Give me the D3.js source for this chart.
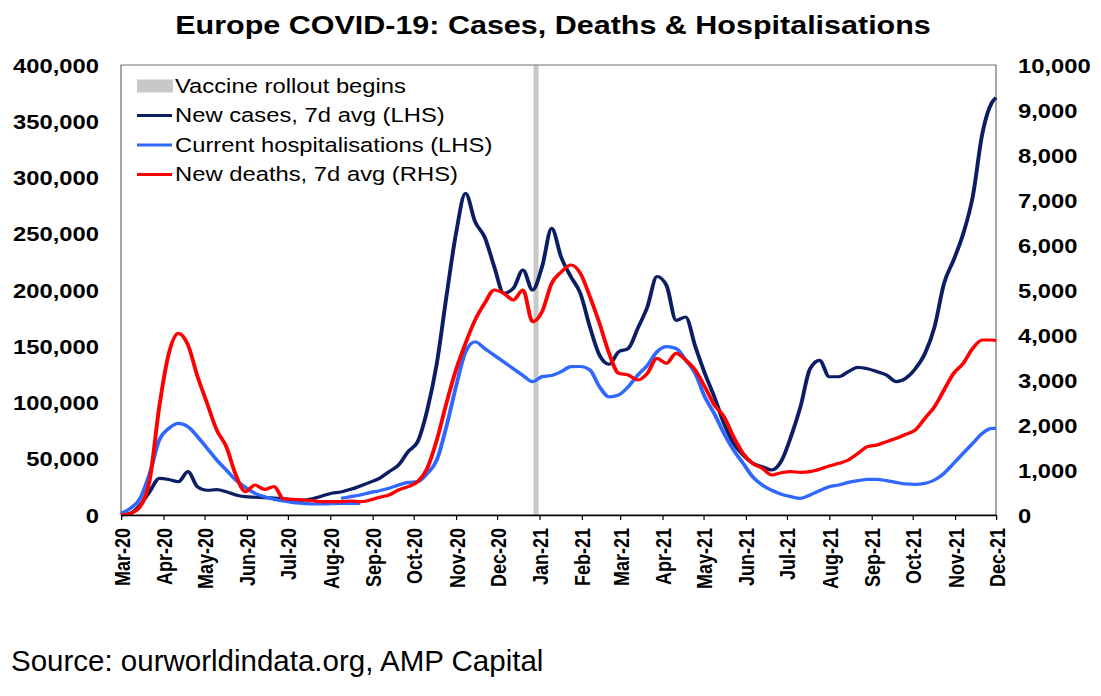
<!DOCTYPE html>
<head>
  <meta charset="utf-8">
  <title>Europe COVID-19</title>
  <script src="https://cdn.jsdelivr.net/npm/d3@7"></script>
  <style>
  body {
    margin: 0;
    background: #fff;
  }
  text {
    font-family: Arial, "Liberation Sans", sans-serif;
    fill: #000;
  }
  .axis text {
    font-weight: bold;
  }
  .series {
    fill: none;
    stroke-width: 3.2px;
    stroke-linejoin: round;
  }
  </style>
</head>
<body>
<script type="text/javascript">
// Weekly samples, Mar 2020 - Dec 2021
var dates = [
  "2020-03-01","2020-03-08","2020-03-15","2020-03-22","2020-03-29",
  "2020-04-05","2020-04-12","2020-04-19","2020-04-26",
  "2020-05-03","2020-05-10","2020-05-17","2020-05-24","2020-05-31",
  "2020-06-07","2020-06-14","2020-06-21","2020-06-28",
  "2020-07-05","2020-07-12","2020-07-19","2020-07-26",
  "2020-08-02","2020-08-09","2020-08-16","2020-08-23","2020-08-30",
  "2020-09-06","2020-09-13","2020-09-20","2020-09-27",
  "2020-10-04","2020-10-11","2020-10-18","2020-10-25",
  "2020-11-01","2020-11-08","2020-11-15","2020-11-22","2020-11-29",
  "2020-12-06","2020-12-13","2020-12-20","2020-12-27",
  "2021-01-03","2021-01-10","2021-01-17","2021-01-24","2021-01-31",
  "2021-02-07","2021-02-14","2021-02-21","2021-02-28",
  "2021-03-07","2021-03-14","2021-03-21","2021-03-28",
  "2021-04-04","2021-04-11","2021-04-18","2021-04-25",
  "2021-05-02","2021-05-09","2021-05-16","2021-05-23","2021-05-30",
  "2021-06-06","2021-06-13","2021-06-20","2021-06-27",
  "2021-07-04","2021-07-11","2021-07-18","2021-07-25",
  "2021-08-01","2021-08-08","2021-08-15","2021-08-22","2021-08-29",
  "2021-09-05","2021-09-12","2021-09-19","2021-09-26",
  "2021-10-03","2021-10-10","2021-10-17","2021-10-24","2021-10-31",
  "2021-11-07","2021-11-14","2021-11-21","2021-11-28","2021-12-01"
];

// New cases, 7d avg (LHS)
var cases = [
  0, 1500, 9000, 20700, 32600, 31600, 29600, 38500, 25000, 22000,
  22500, 20700, 17800, 16300, 15800, 15500, 15000, 14500, 13300, 13300,
  14500, 16900, 19300, 20500, 22800, 25800, 29000, 32600, 38500, 44400,
  56300, 65200, 93300, 134800, 194000, 250000, 286000, 260700, 247000, 220700,
  197000, 201500, 217800, 200000, 220700, 254800, 229000, 211900, 197000, 167000,
  142000, 134000, 145000, 148000, 166000, 185000, 212000, 204000, 173000, 176000,
  150000, 126000, 105000, 81500, 63700, 53300, 46000, 43000, 40000, 48000,
  69600, 96300, 130000, 137500, 122900, 122900, 127400, 131300, 130000, 127400,
  124400, 118500, 121500, 130000, 143400, 167000, 205900, 226700, 250000, 283000,
  339000, 366700, 371000
];

// Current hospitalisations (LHS)
var hosp = [
  1500, 6000, 14800, 37000, 66700, 77000, 81500, 78500, 69600, 59300,
  48900, 40000, 31000, 24600, 19300, 16300, 13900, 12400, 11000, 10400,
  9800, 9800, 10000, 14800, 16300, 17800, 19900, 21600, 23700, 26700,
  29000, 29600, 37000, 48900, 78500, 114000, 145000, 154000, 148000, 142000,
  136000, 130000, 124000, 118500, 123000, 124000, 127400, 131900, 132000, 128900,
  114000, 105000, 106700, 114000, 124400, 133000, 145000, 149600, 148000, 137800,
  126000, 105000, 90000, 72600, 57800, 46000, 34000, 26700, 22000, 18500,
  16300, 14800, 17800, 21600, 25200, 26700, 29000, 30500, 31700, 31700,
  30500, 29000, 27600, 27300, 28100, 31100, 37000, 45900, 54800, 63700,
  72600, 77000, 77000
];
// older hospital reporting runs on a little after the new one starts (index 22-25)
var hospOldTail = [10000, 10300, 10400, 10400];

// New deaths, 7d avg (RHS)
var deaths = [
  0, 37, 185, 778, 2407, 3593, 4037, 3778, 3074, 2481,
  1889, 1519, 889, 519, 667, 570, 630, 356, 350, 333,
  319, 296, 296, 296, 311, 296, 333, 393, 444, 556,
  630, 741, 1037, 1667, 2481, 3222, 3815, 4333, 4704, 5000,
  4926, 4778, 5000, 4296, 4519, 5148, 5400, 5556, 5370, 4852,
  4259, 3593, 3148, 3111, 3000, 3148, 3481, 3370, 3593, 3444,
  3222, 2852, 2444, 2185, 1741, 1370, 1148, 1037, 889, 940,
  963, 948, 963, 1015, 1089, 1148, 1222, 1370, 1519, 1556,
  1630, 1704, 1793, 1889, 2148, 2407, 2778, 3148, 3370, 3704,
  3889, 3889, 3874
];

var vaccineDate = "2020-12-27";
var leftTicks = [0, 50000, 100000, 150000, 200000, 250000, 300000, 350000, 400000];
var rightTicks = [0, 1000, 2000, 3000, 4000, 5000, 6000, 7000, 8000, 9000, 10000];
var legendLabels = ["Vaccine rollout begins", "New cases, 7d avg (LHS)",
  "Current hospitalisations (LHS)", "New deaths, 7d avg (RHS)"];

var width = 1101, height = 696;
var sx = 1.22;   // the chart picture is stretched sideways
var plotL = 121, plotR = 996, plotT = 65, plotB = 515;
var navy = "#0b1d63", blue = "#3068ff", red = "#ff0000", grey = "#c8c8c8";

var parse = d3.timeParse("%Y-%m-%d");
var days = dates.map(parse);

var svg = d3.select("body").append("svg")
    .attr("width", width)
    .attr("height", height);

var g = svg.append("g").attr("transform", "scale(" + sx + ",1)");

var x = d3.scaleTime()
    .domain([parse("2020-03-01"), parse("2021-12-01")])
    .range([plotL / sx, plotR / sx]);
var yL = d3.scaleLinear().domain([0, 400000]).range([plotB, plotT]);
var yR = d3.scaleLinear().domain([0, 10000]).range([plotB, plotT]);

// title
g.append("text")
    .attr("x", 553 / sx)
    .attr("y", 34)
    .attr("text-anchor", "middle")
    .style("font-size", "25px")
    .style("font-weight", "bold")
    .text("Europe COVID-19: Cases, Deaths & Hospitalisations");

// vaccine rollout bar
g.append("rect")
    .attr("x", x(parse(vaccineDate)) + 1 / sx)
    .attr("y", plotT)
    .attr("width", 5 / sx)
    .attr("height", plotB - plotT)
    .attr("fill", grey);

// plot frame
g.append("rect")
    .attr("x", plotL / sx)
    .attr("y", plotT)
    .attr("width", (plotR - plotL) / sx)
    .attr("height", plotB - plotT)
    .attr("fill", "none")
    .attr("stroke", "#6e6e6e")
    .attr("stroke-width", 1);

// lines
function lineOn(y) {
  return d3.line()
      .curve(d3.curveMonotoneX)
      .x(function(d) { return x(d[0]); })
      .y(function(d) { return y(d[1]); });
}
function pairs(vals, offset) {
  return vals.map(function(v, i) { return [days[i + offset], v]; });
}

g.append("path").attr("class", "series")
    .attr("stroke", navy)
    .attr("d", lineOn(yL)(pairs(cases, 0)));

g.append("path").attr("class", "series")
    .attr("stroke", blue)
    .attr("d", lineOn(yL)(pairs(hosp.slice(0, 23), 0)));
g.append("path").attr("class", "series")
    .attr("stroke", blue)
    .attr("d", lineOn(yL)(pairs(hospOldTail, 22)));
g.append("path").attr("class", "series")
    .attr("stroke", blue)
    .attr("d", lineOn(yL)(pairs(hosp.slice(23), 23)));

g.append("path").attr("class", "series")
    .attr("stroke", red)
    .attr("d", lineOn(yR)(pairs(deaths, 0)));

// x axis
var months = d3.timeMonth.range(parse("2020-03-01"), parse("2021-12-02"));
var xAxis = g.append("g")
    .attr("class", "axis")
    .attr("transform", "translate(0," + plotB + ")")
    .call(d3.axisBottom(x)
      .tickValues(months)
      .tickSize(5)
      .tickSizeOuter(0)
      .tickFormat(d3.timeFormat("%b-%y")));
xAxis.select(".domain").attr("stroke", "#000").attr("stroke-width", 1.5);
xAxis.selectAll("text")
    .attr("transform", "rotate(-90)")
    .attr("text-anchor", "end")
    .attr("x", -13)
    .attr("y", 6.5)
    .attr("dy", null)
    .style("font-size", "18px");

// left axis
var yAxisL = g.append("g")
    .attr("class", "axis")
    .attr("transform", "translate(" + plotL / sx + ",0)")
    .call(d3.axisLeft(yL)
      .tickValues(leftTicks)
      .tickSize(0)
      .tickPadding(22 / sx)
      .tickFormat(d3.format(",")));
yAxisL.select(".domain").remove();
yAxisL.selectAll("text").style("font-size", "19.5px").attr("dy", "0.36em");

// right axis
var yAxisR = g.append("g")
    .attr("class", "axis")
    .attr("transform", "translate(" + plotR / sx + ",0)")
    .call(d3.axisRight(yR)
      .tickValues(rightTicks)
      .tickSize(0)
      .tickPadding(22 / sx)
      .tickFormat(d3.format(",")));
yAxisR.select(".domain").remove();
yAxisR.selectAll("text").style("font-size", "19.5px").attr("dy", "0.36em");

// legend
var legend = g.append("g");
var rowY = [86, 115.5, 145, 174.5];
legendLabels.forEach(function(label, i) {
  if (i == 0) {
    legend.append("rect")
        .attr("x", 137 / sx).attr("y", rowY[i] - 6.5)
        .attr("width", 36 / sx).attr("height", 13)
        .attr("fill", grey);
  } else {
    legend.append("line")
        .attr("x1", 137 / sx).attr("x2", 172 / sx)
        .attr("y1", rowY[i]).attr("y2", rowY[i])
        .attr("stroke", [navy, blue, red][i - 1])
        .attr("stroke-width", 3.2);
  }
  legend.append("text")
      .attr("x", 175 / sx)
      .attr("y", rowY[i] + 7)
      .style("font-size", "19.5px")
      .text(label);
});

// source note (not stretched)
svg.append("text")
    .attr("x", 11)
    .attr("y", 671)
    .style("font-size", "29.5px")
    .text("Source: ourworldindata.org, AMP Capital");
</script>
</body>
</html>
